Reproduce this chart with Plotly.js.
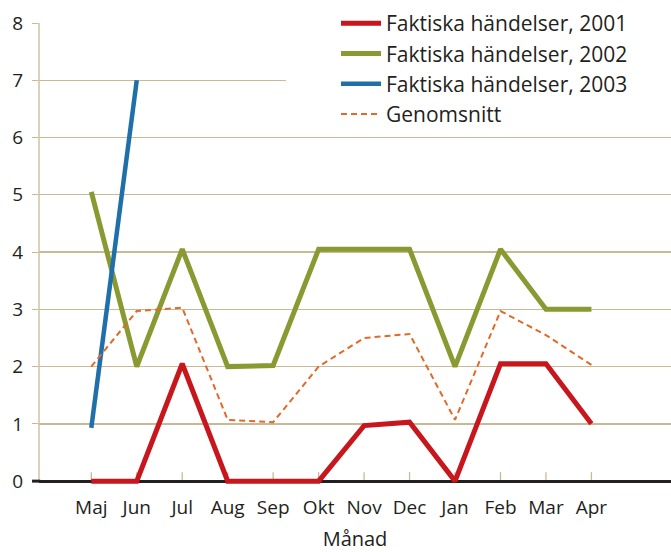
<!DOCTYPE html>
<html>
<head>
<meta charset="utf-8">
<script src="https://cdn.plot.ly/plotly-3.0.1.min.js"></script>
<style>html,body{margin:0;padding:0;background:#fff;}#chart{width:671px;height:552px;}</style>
</head>
<body>
<div id="chart"></div>
<script>
const months = ["Maj","Jun","Jul","Aug","Sep","Okt","Nov","Dec","Jan","Feb","Mar","Apr"];
const events2001 = [0, 0, 2.05, 0, 0, 0, 0.97, 1.03, 0, 2.05, 2.05, 1.0];
const events2002 = [5.05, 2, 4.05, 2, 2.02, 4.05, 4.05, 4.05, 2, 4.05, 3, 3];
const months2003 = ["Maj","Jun"];
const events2003 = [0.93, 7.0];
const average = [2.0, 2.97, 3.03, 1.07, 1.03, 2.0, 2.5, 2.57, 1.07, 2.97, 2.55, 2.03];
const yTicks = [0,1,2,3,4,5,6,7,8];

const grid = "#c9b994";
const textCol = "#231f20";
const fontFam = "'Open Sans', 'Noto Sans', sans-serif";

const W = 671, H = 552;
const mL = 39, mR = 0, mT = 23, mB = 64;
const yMin = -0.12, yMax = 8;
const plotH = H - mT - mB;
const plotW = W - mL - mR;
const pxPerUnit = plotH / (yMax - yMin);
const xTickLenPx = 9;

const traces = [
  {x: months, y: events2001, name: "Faktiska händelser, 2001", legendgroup: "a", mode: "lines",
   line: {color: "#c8161d", width: 5}},
  {x: months, y: events2002, name: "Faktiska händelser, 2002", legendgroup: "b", mode: "lines",
   line: {color: "#8a9a32", width: 5}},
  {x: months2003, y: events2003, name: "Faktiska händelser, 2003", legendgroup: "c", mode: "lines",
   line: {color: "#1f6fa8", width: 4.5}},
  {x: months, y: average, name: "Genomsnitt", legendgroup: "d", mode: "lines",
   line: {color: "#e06a2a", width: 2, dash: "6px,4px"}}
];

// x-axis tick marks (pointing up from the zero line) and axis lines
const shapes = months.map(m => ({
  type: "line", xref: "x", yref: "y", x0: m, x1: m, y0: 0, y1: xTickLenPx / pxPerUnit,
  line: {color: grid, width: 1.3}, layer: "below"
}));
shapes.push({type: "line", xref: "paper", yref: "y", x0: 0, x1: 0, y0: 0, y1: yMax,
  line: {color: grid, width: 1.3}, layer: "below"});
// short left extension of the black baseline (outside the plot area)
shapes.push({type: "line", xref: "paper", yref: "y", x0: -0.011, x1: 0.002, y0: 0, y1: 0,
  line: {color: textCol, width: 3}, layer: "above"});
// white area behind the legend
shapes.push({type: "rect", xref: "paper", yref: "paper",
  x0: (286 - mL) / plotW, x1: 1.01, y0: (H - mB - 131) / plotH, y1: 1.2,
  fillcolor: "#fff", line: {width: 0}, layer: "above"});

const layout = {
  width: W, height: H,
  margin: {l: mL, r: mR, t: mT, b: mB},
  paper_bgcolor: "#fff", plot_bgcolor: "#fff",
  font: {family: fontFam, color: textCol, size: 19},
  showlegend: true,
  legend: {x: (336 - mL) / plotW, xanchor: "left", y: (H - mB - 3) / plotH, yanchor: "top",
           bgcolor: "rgba(0,0,0,0)",
           font: {size: 21, color: textCol}, tracegroupgap: 4,
           itemwidth: 40, traceorder: "normal"},
  xaxis: {type: "category", categoryorder: "array", categoryarray: months,
          range: [-1.15, 12.75], showgrid: false, zeroline: false,
          showline: false, ticks: "",
          tickfont: {size: 19}, ticklabelstandoff: 6,
          title: {text: "Månad", font: {size: 20}, standoff: 23}},
  yaxis: {range: [yMin, yMax], tickvals: yTicks, showgrid: true, gridcolor: grid, gridwidth: 1.3,
          zeroline: true, zerolinecolor: textCol, zerolinewidth: 3, showline: false,
          ticks: "outside", ticklen: 6, tickcolor: grid, tickfont: {size: 19},
          ticklabelstandoff: 5, fixedrange: true},
  shapes: shapes
};

Plotly.newPlot("chart", traces, layout, {displayModeBar: false, staticPlot: true});
</script>
</body>
</html>
